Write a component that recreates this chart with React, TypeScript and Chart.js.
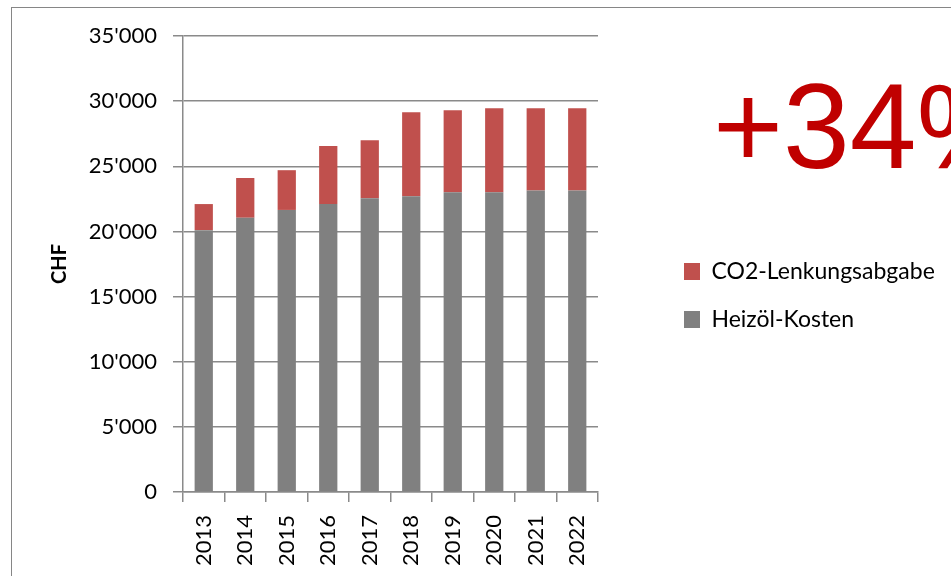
import React, { useEffect, useRef } from 'react';
import { Chart, registerables } from 'chart.js';

Chart.register(...registerables);

const years = ['2013', '2014', '2015', '2016', '2017', '2018', '2019', '2020', '2021', '2022'];
const heizoelKosten = [20100, 21050, 21650, 22100, 22550, 22700, 23000, 23000, 23150, 23150];
const co2Lenkungsabgabe = [2000, 3050, 3050, 4450, 4450, 6450, 6300, 6450, 6300, 6300];
const yMin = 0;
const yMax = 35000;
const yStep = 5000;
const highlightText = '+34%';
const seriesNames = ['Heizöl-Kosten', 'CO2-Lenkungsabgabe'];
const axisTitle = 'CHF';

const W = 951;
const H = 576;
const GRID = '#8a8a8a';

const fmt = (v: number) => String(v).replace(/\B(?=(\d{3})+(?!\d))/g, "'");

const decoPlugin = {
  id: 'deco',
  beforeDraw(chart: any) {
    const ctx = chart.ctx;
    ctx.save();
    ctx.fillStyle = '#ffffff';
    ctx.fillRect(0, 0, chart.width, chart.height);
    ctx.strokeStyle = '#868686';
    ctx.lineWidth = 1;
    ctx.strokeRect(11.5, 7.5, 2000, 2000);
    ctx.restore();
  },
  afterDraw(chart: any) {
    const ctx = chart.ctx;
    ctx.save();
    ctx.fillStyle = '#C00000';
    ctx.font = '120px "Liberation Sans", Arial, sans-serif';
    ctx.textBaseline = 'alphabetic';
    ctx.textAlign = 'left';
    ctx.fillText(highlightText, 713, 168);
    ctx.restore();
  },
};

const legendPlacePlugin = {
  id: 'legendPlace',
  beforeLayout(chart: any) {
    const lg = chart.legend;
    if (lg && !lg._patched) {
      const orig = lg.fit;
      lg.fit = function () {
        orig.call(this);
        this.width = 353;
      };
      lg._patched = true;
    }
  },
  afterLayout(chart: any) {
    const lg = chart.legend;
    if (lg) {
      lg.left = 659;
      lg.right = W;
      lg.top = 235;
      lg.bottom = H;
    }
  },
};

export default function App() {
  const ref = useRef<HTMLCanvasElement | null>(null);

  useEffect(() => {
    if (!ref.current) return;
    const chart = new Chart(ref.current, {
      type: 'bar',
      data: {
        labels: years,
        datasets: [
          {
            label: seriesNames[0],
            data: heizoelKosten,
            backgroundColor: '#808080',
            borderWidth: 0,
            barPercentage: 0.44,
            categoryPercentage: 1,
          },
          {
            label: seriesNames[1],
            data: co2Lenkungsabgabe,
            backgroundColor: '#C0504D',
            borderWidth: 0,
            barPercentage: 0.44,
            categoryPercentage: 1,
          },
        ],
      },
      options: {
        responsive: false,
        animation: false,
        devicePixelRatio: 1,
        layout: { padding: { left: 0, top: 36, right: 0, bottom: 0 } },
        plugins: {
          tooltip: { enabled: false },
          legend: {
            position: 'right',
            align: 'start',
            reverse: true,
            labels: {
              boxWidth: 16,
              boxHeight: 17,
              padding: 25,
              color: '#000',
              font: { family: 'Lato', size: 23 },
            },
          },
        },
        scales: {
          x: {
            stacked: true,
            afterFit: (s: any) => {
              s.height = 84;
            },
            grid: {
              offset: true,
              drawOnChartArea: false,
              drawTicks: true,
              tickLength: 10,
              color: GRID,
              lineWidth: 1.5,
            },
            border: { display: true, color: GRID, width: 1.5 },
            ticks: {
              autoSkip: false,
              maxRotation: 90,
              minRotation: 90,
              padding: 13,
              color: '#000',
              font: { family: 'Lato', size: 22 },
            },
          },
          y: {
            stacked: true,
            min: yMin,
            max: yMax,
            afterFit: (s: any) => {
              s.width = 183;
            },
            grid: {
              color: GRID,
              lineWidth: 1.5,
              drawTicks: true,
              tickLength: 10,
            },
            border: { display: true, color: GRID, width: 1.5 },
            ticks: {
              stepSize: yStep,
              padding: 16,
              color: '#000',
              font: { family: 'Lato', size: 22 },
              callback: (v: any) => fmt(Number(v)),
            },
            title: {
              display: true,
              text: axisTitle,
              color: '#000',
              font: { family: 'Lato', size: 20, weight: 'bold' },
              padding: { top: 48, bottom: 0 },
            },
          },
        },
      },
      plugins: [decoPlugin, legendPlacePlugin],
    } as any);
    return () => chart.destroy();
  }, []);

  return (
    <div
      style={{
        position: 'fixed',
        left: 0,
        top: 0,
        width: W,
        height: H,
        overflow: 'hidden',
        background: '#fff',
      }}
    >
      <canvas ref={ref} width={W} height={H} style={{ display: 'block' }} />
    </div>
  );
}
